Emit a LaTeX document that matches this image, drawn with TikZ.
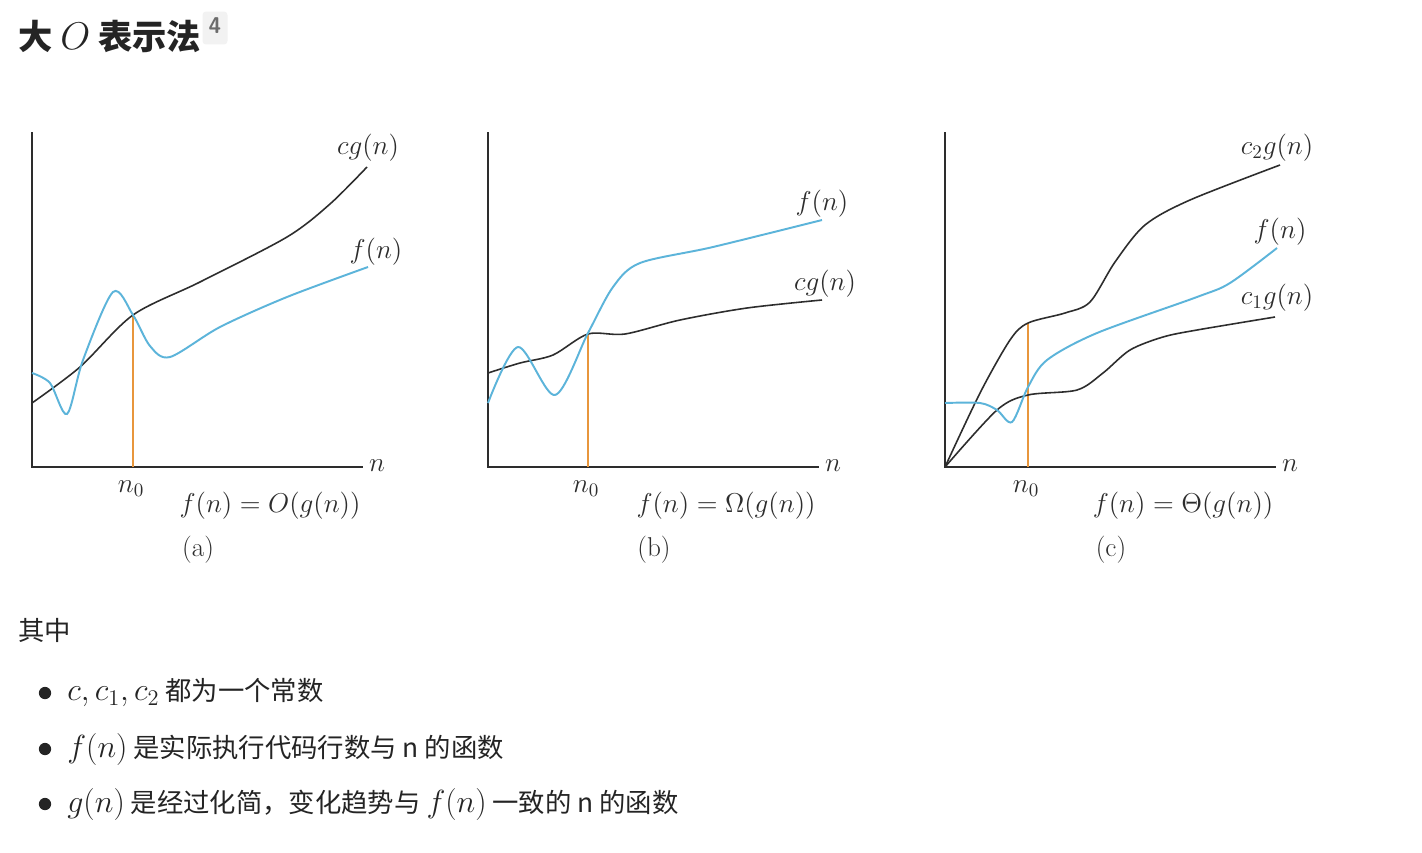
\RequirePackage{fix-cm}
\documentclass[tikz,border=0pt]{standalone}
\usepackage{amsmath}
\usepackage{fontspec}
\newfontfamily\cjk{Noto Sans CJK SC}
\usetikzlibrary{positioning}
\definecolor{curveblue}{RGB}{92,180,218}
\definecolor{nzeroorange}{RGB}{232,150,60}
\definecolor{curvegray}{RGB}{45,45,45}
\definecolor{textdark}{RGB}{36,36,36}
\definecolor{supgray}{RGB}{242,242,242}
\newcommand{\bodymath}[1]{{\fontsize{18.2}{19}\selectfont$#1$}}

\begin{document}
\begin{tikzpicture}[x=0.02cm, y=-0.02cm]

    % --- Estilos ---
    \tikzset{
        axis/.style={draw=curvegray, line width=1.1pt},
        gcurve/.style={draw=curvegray, line width=0.9pt},
        fcurve/.style={draw=curveblue, line width=1.1pt},
        nzero/.style={draw=nzeroorange, line width=0.9pt},
        graphlabel/.style={inner sep=0, text=curvegray, font=\fontsize{15.5}{17}\selectfont},
        bodytext/.style={inner sep=0, anchor=west, text=textdark, font=\cjk\fontsize{15}{17}\selectfont},
        bulletdot/.style={circle, fill=textdark, inner sep=0, minimum size=7pt}
    }

    % --- Fondo ---
    \fill[white] (0,0) rectangle (1422,852);
    \useasboundingbox (0,0) rectangle (1422,852);

    % --- Titulo ---
    \node (title) [inner sep=0, anchor=west, text=textdark, font=\cjk\bfseries\fontsize{19.5}{21}\selectfont] at (18,36) {大 {\fontsize{22}{24}\selectfont$O$} 表示法};
    \node (footnote) [fill=supgray, rounded corners=2pt, minimum width=0.5cm, minimum height=0.66cm, inner sep=0, text=gray!85!black, font=\sffamily\bfseries\fontsize{13}{14}\selectfont] at (215,28) {\raisebox{3pt}{4}};

    % --- Ejes ---
    \foreach \ox/\nx/\ny/\tag/\op in {32/133/315/a/O, 488/588/333/b/\Omega, 945/1028/323/c/\Theta} {
        \draw[axis] (\ox,132) -- (\ox,467) -- (\ox+331,467);
        \draw[nzero] (\nx,467) -- (\nx,\ny);
        \node (n-\tag) [graphlabel] at (\ox+345,466) {$n$};
        \node (nzero-\tag) [graphlabel] at (\nx-2,489) {$n_0$};
        \node (formula-\tag) [graphlabel] at (\ox+238,506) {$f(n) = \op(g(n))$};
        \node (caption-\tag) [graphlabel] at (\ox+166,550) {(\tag)};
    }

    % --- Curvas (a) ---
    \draw[gcurve] plot[smooth] coordinates {(32,403) (80,367) (133,315) (200,282) (287,237) (330,204) (367,167)};
    \draw[fcurve] plot[smooth] coordinates {(32,373) (50,383) (67,414) (83,360) (113,292) (133,315) (150,346) (170,357) (220,327) (287,297) (368,267)};
    \node (cg-a) [graphlabel] at (368,148) {$cg(n)$};
    \node (f-a) [graphlabel] at (376,252) {$f(n)$};

    % --- Curvas (b) ---
    \draw[gcurve] plot[smooth] coordinates {(488,373) (520,363) (553,355) (588,334) (625,334) (680,320) (747,308) (822,300)};
    \draw[fcurve] plot[smooth] coordinates {(488,403) (518,347) (555,395) (588,333) (613,287) (640,263) (713,247) (822,220)};
    \node (f-b) [graphlabel] at (822,204) {$f(n)$};
    \node (cg-b) [graphlabel] at (825,284) {$cg(n)$};

    % --- Curvas (c) ---
    \draw[gcurve] plot[smooth] coordinates {(945,467) (980,393) (1010,340) (1028,323) (1065,313) (1090,302) (1115,262) (1145,225) (1190,200) (1280,165)};
    \draw[gcurve] plot[smooth] coordinates {(945,467) (997,410) (1028,395) (1077,390) (1103,373) (1130,350) (1163,337) (1197,330) (1275,317)};
    \draw[fcurve] plot[smooth] coordinates {(945,403) (980,403) (997,410) (1012,422) (1028,387) (1047,360) (1097,333) (1197,297) (1230,283) (1277,248)};
    \node (c2g-c) [graphlabel] at (1277,148) {$c_2g(n)$};
    \node (f-c) [graphlabel] at (1280,232) {$f(n)$};
    \node (c1g-c) [graphlabel] at (1277,298) {$c_1g(n)$};

    % --- Texto ---
    \node (where) [bodytext] at (18,630) {其中};
    \node (dot1) [bulletdot] at (45,693) {};
    \node (item1) [bodytext] at (67,693) {\bodymath{c, c_1, c_2} 都为一个常数};
    \node (dot2) [bulletdot] at (45,749) {};
    \node (item2) [bodytext] at (67,749) {\bodymath{f(n)} 是实际执行代码行数与 n 的函数};
    \node (dot3) [bulletdot] at (45,804) {};
    \node (item3) [bodytext] at (67,804) {\bodymath{g(n)} 是经过化简，变化趋势与 \bodymath{f(n)} 一致的 n 的函数};

\end{tikzpicture}
\end{document}
